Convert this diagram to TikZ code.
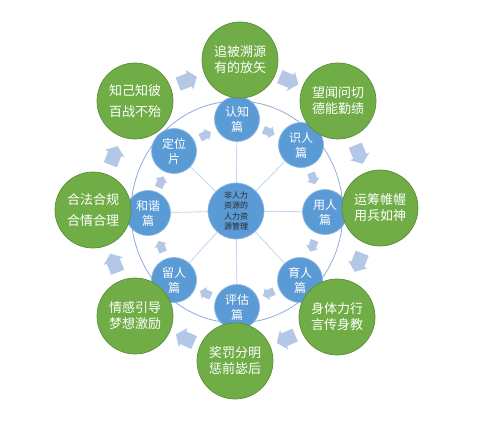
\documentclass[tikz,border=0pt]{standalone}
\usepackage{fontspec}
\setmainfont{Noto Sans CJK SC}
\usetikzlibrary{calc}
\definecolor{gfill}{HTML}{70AD47}
\definecolor{gdraw}{HTML}{5A8F38}
\definecolor{bfill}{HTML}{5B9BD5}
\definecolor{bdraw}{HTML}{8CB8E3}
\definecolor{acol}{HTML}{B4C7E7}
\definecolor{spokec}{HTML}{C5DAF0}
\definecolor{ringc}{HTML}{8FAADC}
\definecolor{hubtext}{HTML}{262626}
\pgfdeclarelayer{bg}
\pgfsetlayers{bg,main}
\begin{document}
\begin{tikzpicture}[x=1pt,y=-1pt,
  gnode/.style={circle, fill=gfill, draw=gdraw, line width=0.7pt, minimum size=76pt, inner sep=0pt, text=white, font=\fontsize{13}{16}\selectfont, align=center},
  gwide/.style={gnode, font=\fontsize{13}{21}\selectfont},
  bnode/.style={circle, fill=bfill, draw=bdraw, line width=0.7pt, minimum size=45pt, inner sep=0pt, text=white, font=\fontsize{12}{15}\selectfont, align=center},
  hub/.style={circle, fill=bfill, draw=bdraw, line width=0.7pt, minimum size=56pt, inner sep=0pt, text=hubtext, font=\fontsize{8}{10.5}\selectfont, align=center},
  bigarrow/.pic={\fill[acol] (-10,-7) -- (2,-7) -- (2,-10.5) -- (10,0) -- (2,10.5) -- (2,7) -- (-10,7) -- cycle;},
  smallarrow/.pic={\fill[acol] (-6,-4) -- (1,-4) -- (1,-6.5) -- (6,0) -- (1,6.5) -- (1,4) -- (-6,4) -- cycle;}]
\useasboundingbox (0,0) rectangle (481,425);

% hub and blue nodes
\node[hub] (hub) at (236,211) {非人力\\资源的\\人力资\\源管理};
\node[bnode] (b1) at (237,119) {认知\\篇};
\node[bnode] (b2) at (301,145) {识人\\篇};
\node[bnode] (b3) at (325,212) {用人\\篇};
\node[bnode] (b4) at (300,280) {育人\\篇};
\node[bnode] (b5) at (237,307) {评估\\篇};
\node[bnode] (b6) at (174,280) {留人\\篇};
\node[bnode] (b7) at (148,213) {和谐\\篇};
\node[bnode] (b8) at (174,151) {定位\\片};

% green nodes
\node[gnode] (g1) at (240,60) {追被溯源\\有的放矢};
\node[gnode] (g2) at (338,101) {望闻问切\\德能勤绩};
\node[gnode] (g3) at (380,208) {运筹帷幄\\用兵如神};
\node[gnode] (g4) at (337,317) {身体力行\\言传身教};
\node[gnode] (g5) at (235,361) {奖罚分明\\惩前毖后};
\node[gnode] (g6) at (135,316) {情感引导\\梦想激励};
\node[gwide] (g7) at (93,210) {合法合规\\合情合理};
\node[gwide] (g8) at (135,101) {知己知彼\\百战不殆};

% ring and spokes
\begin{pgfonlayer}{bg}
  \draw[ringc, line width=0.8pt] (237,212) ellipse [x radius=106, y radius=111];
  \foreach \b in {b1,b2,b3,b4,b5,b6,b7,b8}
    \draw[spokec, line width=0.9pt] (hub) -- (\b);
\end{pgfonlayer}

% outer arrows (clockwise)
\foreach \a/\b in {g8/g1,g1/g2,g2/g3,g3/g4,g4/g5,g5/g6,g6/g7,g7/g8}
  \path let \p1=($(\b)-(\a)$), \n1={atan2(\y1,\x1)} in
    ($(\a)!0.5!(\b)$) pic[rotate=\n1] {bigarrow};

% inner arrows (clockwise)
\foreach \a/\b in {b8/b1,b1/b2,b2/b3,b3/b4,b4/b5,b5/b6,b6/b7,b7/b8}
  \path let \p1=($(\b)-(\a)$), \n1={atan2(\y1,\x1)} in
    ($(\a)!0.5!(\b)$) pic[rotate=\n1] {smallarrow};
\end{tikzpicture}
\end{document}
